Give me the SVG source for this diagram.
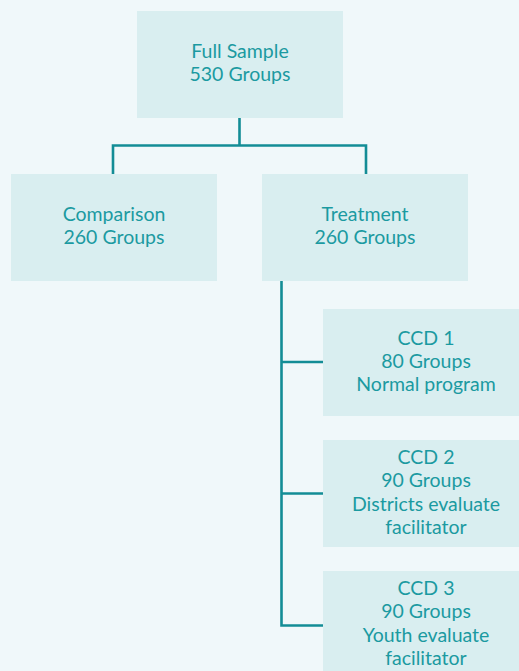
<svg xmlns="http://www.w3.org/2000/svg" width="519" height="671" viewBox="0 0 519 671">
<style>
.box{fill:#d9eef0}
.t{font-family:Lato,"Open Sans",sans-serif;font-size:19.5px;fill:#1b9aa1;text-anchor:middle}
.c{fill:none;stroke:#138d96;stroke-width:2.6}
</style>
<rect width="519" height="671" fill="#f0f8fa"/>
<g id="connectors">
<path class="c" d="M239.5 118V145.5M113 174V145.5H366V174"/>
<path class="c" d="M281.5 281V625.5H323M281.5 362H323M281.5 493.5H323"/>
</g>
<g id="full-sample">
<rect class="box" x="137" y="11" width="206" height="107"/>
<text class="t" x="240" y="58">Full Sample</text>
<text class="t" x="240" y="81">530 Groups</text>
</g>
<g id="comparison">
<rect class="box" x="11" y="174" width="206" height="107"/>
<text class="t" x="114" y="221">Comparison</text>
<text class="t" x="114" y="244">260 Groups</text>
</g>
<g id="treatment">
<rect class="box" x="262" y="174" width="206" height="107"/>
<text class="t" x="365" y="221">Treatment</text>
<text class="t" x="365" y="244">260 Groups</text>
</g>
<g id="ccd1">
<rect class="box" x="323" y="309" width="206" height="107"/>
<text class="t" x="426" y="345">CCD 1</text>
<text class="t" x="426" y="368">80 Groups</text>
<text class="t" x="426" y="391">Normal program</text>
</g>
<g id="ccd2">
<rect class="box" x="323" y="440" width="206" height="107"/>
<text class="t" x="426" y="464">CCD 2</text>
<text class="t" x="426" y="487">90 Groups</text>
<text class="t" x="426" y="511">Districts evaluate</text>
<text class="t" x="426" y="534">facilitator</text>
</g>
<g id="ccd3">
<rect class="box" x="323" y="571" width="206" height="107"/>
<text class="t" x="426" y="595">CCD 3</text>
<text class="t" x="426" y="618">90 Groups</text>
<text class="t" x="426" y="642">Youth evaluate</text>
<text class="t" x="426" y="665">facilitator</text>
</g>
</svg>
